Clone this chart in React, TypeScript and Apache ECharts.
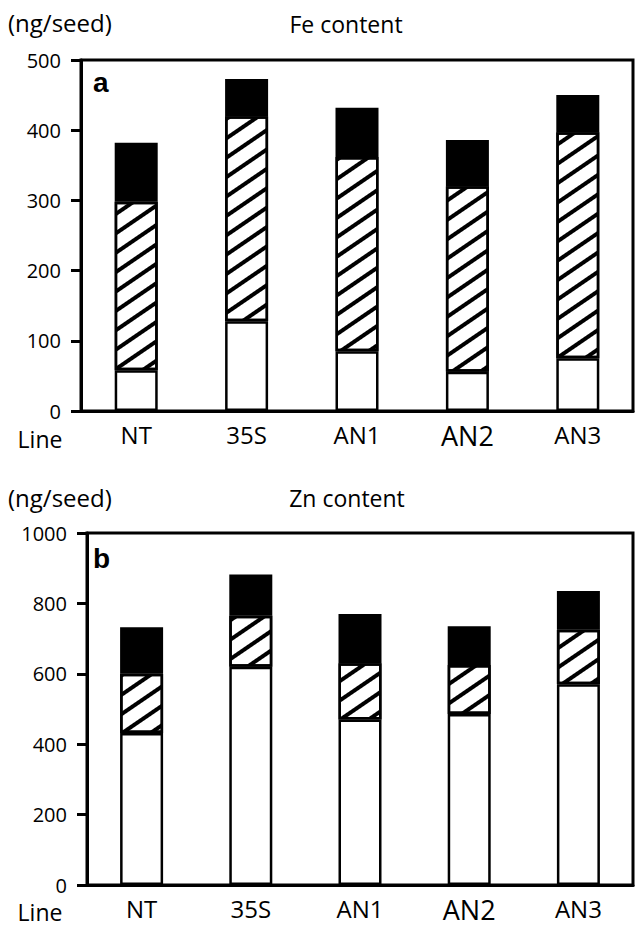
import React, { useEffect, useRef } from "react";
import * as echarts from "echarts";

const categories = ["NT", "35S", "AN1", "AN2", "AN3"];
// Fe content (ng/seed), stacked segments
const feWhite = [58, 128, 85, 56, 75];
const feHatched = [240, 292, 277, 264, 322];
const feBlack = [84, 53, 70, 66, 53];
// Zn content (ng/seed), stacked segments
const znWhite = [432, 620, 470, 486, 570];
const znHatched = [168, 145, 160, 139, 155];
const znBlack = [132, 117, 140, 110, 110];

const FONT = "'Open Sans', sans-serif";

export default function App() {
  const ref = useRef<HTMLDivElement>(null);
  useEffect(() => {
    document.body.style.margin = "0";
    const chart = echarts.init(ref.current!, null, { renderer: "svg" });
    const hatch = {
      color: "#000",
      backgroundColor: "#fff",
      symbol: "rect",
      symbolSize: 1,
      dashArrayX: [1, 0],
      dashArrayY: [3.5, 12],
      rotation: -0.6,
    };
    const mkSeries = (stack: string, idx: number, w: number[], h: number[], b: number[]) => [
      {
        type: "bar", stack, xAxisIndex: idx, yAxisIndex: idx, data: w, barWidth: 43,
        itemStyle: { color: "#fff", borderColor: "#000", borderWidth: 2.5 },
      },
      {
        type: "bar", stack, xAxisIndex: idx, yAxisIndex: idx, data: h, barWidth: 43,
        itemStyle: { color: "#fff", borderColor: "#000", borderWidth: 2.5, decal: hatch },
      },
      {
        type: "bar", stack, xAxisIndex: idx, yAxisIndex: idx, data: b, barWidth: 43,
        itemStyle: { color: "#000", borderColor: "#000", borderWidth: 2.5 },
      },
    ];
    const xAxisCommon = {
      type: "category",
      data: categories,
      axisTick: { show: false },
      axisLine: { lineStyle: { color: "#000", width: 3 } },
      axisLabel: {
        color: "#000",
        fontFamily: FONT,
        margin: 11,
        formatter: (v: string) => (v === "AN2" ? `{big|${v}}` : `{n|${v}}`),
        rich: {
          n: { fontSize: 24, fontFamily: FONT, color: "#000" },
          big: { fontSize: 27, fontFamily: FONT, color: "#000" },
        },
      },
    };
    const yAxisCommon = {
      type: "value",
      splitLine: { show: false },
      axisLine: { show: true, lineStyle: { color: "#000", width: 3 } },
      axisTick: { show: true, inside: false, length: 10, lineStyle: { color: "#000", width: 3 } },
      axisLabel: { color: "#000", fontSize: 20, fontFamily: FONT, margin: 20, formatter: (v: number) => String(v) },
    };
    const textStyle = (s: number, extra: any = {}) => ({ fontSize: s, fontFamily: FONT, fill: "#000", ...extra });
    chart.setOption({
      animation: false,
      grid: [
        { left: 81, right: 2, top: 60, height: 351, show: true, borderColor: "#000", borderWidth: 3, backgroundColor: "transparent" },
        { left: 87, right: 2, top: 533, height: 352, show: true, borderColor: "#000", borderWidth: 3, backgroundColor: "transparent" },
      ],
      xAxis: [
        { ...xAxisCommon, gridIndex: 0 },
        { ...xAxisCommon, gridIndex: 1 },
      ],
      yAxis: [
        { ...yAxisCommon, gridIndex: 0, min: 0, max: 500, interval: 100 },
        { ...yAxisCommon, gridIndex: 1, min: 0, max: 1000, interval: 200 },
      ],
      series: [
        ...mkSeries("fe", 0, feWhite, feHatched, feBlack),
        ...mkSeries("zn", 1, znWhite, znHatched, znBlack),
      ],
      graphic: [
        { type: "text", x: 8, y: 22, style: { text: "(ng/seed)", verticalAlign: "middle", ...textStyle(24) } },
        { type: "text", x: 346, y: 24, style: { text: "Fe content", align: "center", verticalAlign: "middle", ...textStyle(23) } },
        { type: "text", x: 93, y: 82, style: { text: "a", verticalAlign: "middle", ...textStyle(28, { fontWeight: "bold", fontFamily: "'Liberation Sans', Arial, sans-serif" }) } },
        { type: "text", x: 40, y: 439, style: { text: "Line", align: "center", verticalAlign: "middle", ...textStyle(23, { lineHeight: 25 }) } },
        { type: "text", x: 8, y: 497, style: { text: "(ng/seed)", verticalAlign: "middle", ...textStyle(24) } },
        { type: "text", x: 347, y: 498, style: { text: "Zn content", align: "center", verticalAlign: "middle", ...textStyle(23) } },
        { type: "text", x: 93, y: 558, style: { text: "b", verticalAlign: "middle", ...textStyle(28, { fontWeight: "bold", fontFamily: "'Liberation Sans', Arial, sans-serif" }) } },
        { type: "text", x: 40, y: 912, style: { text: "Line", align: "center", verticalAlign: "middle", ...textStyle(23, { lineHeight: 25 }) } },
      ],
    });
    return () => chart.dispose();
  }, []);
  return <div ref={ref} style={{ width: 635, height: 929 }} />;
}
